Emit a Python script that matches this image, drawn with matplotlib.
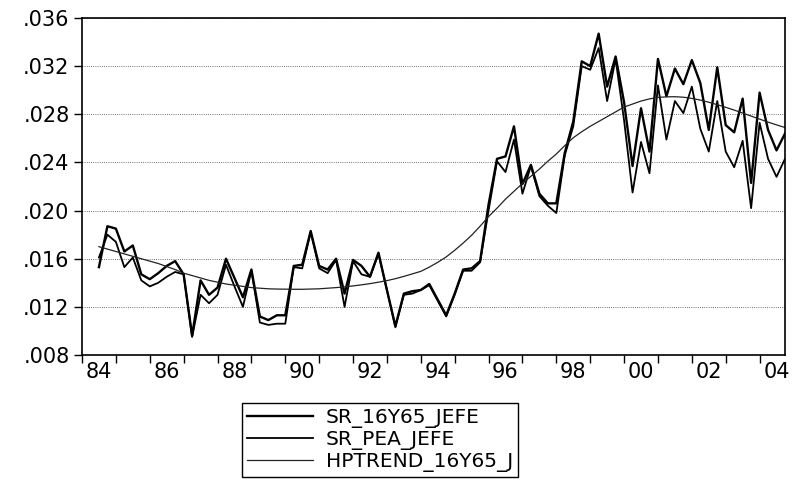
'''
Jefe (head of household) unemployment rates with HP trend, quarterly 1984-2004
'''
import matplotlib
matplotlib.use('Agg')
import matplotlib.pyplot as plt
from matplotlib.ticker import FuncFormatter

import numpy as np
import pandas as pd

# quarterly sample
quarters = pd.period_range('1984Q3', '2004Q4', freq='Q')

sr_16y65_jefe = [
    .0153, .0187, .0185, .0166, .0171, .0147, .0143, .0148, .0154, .0158,
    .0147, .0096, .0142, .0130, .0136, .0160, .0144, .0128, .0151, .0112,
    .0109, .0113, .0113, .0154, .0155, .0183, .0154, .0151, .0160, .0131,
    .0159, .0154, .0145, .0165, .0134, .0104, .0131, .0133, .0134, .0139,
    .0126, .0113, .0131, .0151, .0152, .0158, .0205, .0243, .0245, .0270,
    .0222, .0238, .0214, .0206, .0206, .0248, .0274, .0324, .0320, .0347,
    .0303, .0328, .0290, .0237, .0285, .0249, .0326, .0295, .0318, .0305,
    .0325, .0306, .0267, .0319, .0271, .0265, .0293, .0223, .0298, .0267,
    .0250, .0264]

sr_pea_jefe = [
    .0161, .0180, .0174, .0153, .0161, .0142, .0137, .0140, .0145, .0149,
    .0147, .0095, .0130, .0123, .0130, .0155, .0137, .0120, .0150, .0107,
    .0105, .0106, .0106, .0153, .0152, .0182, .0152, .0148, .0159, .0120,
    .0158, .0147, .0145, .0164, .0134, .0103, .0130, .0131, .0134, .0138,
    .0125, .0112, .0130, .0150, .0150, .0157, .0200, .0241, .0232, .0259,
    .0214, .0237, .0212, .0204, .0198, .0246, .0270, .0320, .0317, .0335,
    .0291, .0326, .0275, .0215, .0257, .0231, .0304, .0259, .0291, .0281,
    .0303, .0268, .0249, .0291, .0249, .0236, .0258, .0202, .0273, .0243,
    .0228, .0243]

hptrend_16y65_j = [
    .01700, .01680, .01660, .01640, .01620, .01600, .01580, .01560, .01535, .01510,
    .01480, .01460, .01440, .01420, .01405, .01390, .01380, .01370, .01360, .01355,
    .01350, .01348, .01347, .01346, .01346, .01348, .01350, .01355, .01360, .01366,
    .01374, .01383, .01393, .01405, .01418, .01434, .01453, .01474, .01495, .01530,
    .01570, .01615, .01670, .01730, .01795, .01870, .01950, .02020, .02095, .02160,
    .02225, .02285, .02345, .02410, .02470, .02540, .02605, .02655, .02700, .02740,
    .02780, .02820, .02860, .02885, .02910, .02928, .02940, .02945, .02946, .02942,
    .02932, .02918, .02900, .02880, .02858, .02835, .02810, .02785, .02760, .02735,
    .02712, .02690]

series_names = ['SR_16Y65_JEFE', 'SR_PEA_JEFE', 'HPTREND_16Y65_J']
year_ticks = list(range(1984, 2005))
label_years = list(range(1984, 2005, 2))
y_ticks = [.008, .012, .016, .020, .024, .028, .032, .036]

# x position of every quarter in years
x = quarters.year + (quarters.quarter - 1) / 4.0

plt.rcParams['font.family'] = ['DejaVu Sans']

fig = plt.figure(figsize=(7.93, 4.8), dpi=100)
ax = fig.add_axes([82 / 793, 1 - 355 / 480, 703 / 793, 337 / 480])

ax.plot(x, sr_16y65_jefe, color='black', lw=1.7, label=series_names[0])
ax.plot(x, sr_pea_jefe, color='black', lw=1.3, label=series_names[1])
ax.plot(x, hptrend_16y65_j, color='#222222', lw=0.9, label=series_names[2])

ax.set_xlim(1984.0, 2004.75)
ax.set_ylim(.008, .036)

# y axis: EViews style labels without leading zero
ax.set_yticks(y_ticks)
ax.yaxis.set_major_formatter(FuncFormatter(lambda v, p: ('%.3f' % v)[1:]))
ax.yaxis.grid(True, linestyle=(0, (1, 1.6)), color='#444444', lw=0.6)
ax.tick_params(axis='y', length=6, width=1, labelsize=15, pad=3)

# x axis: ticks at year starts, labels centred in the year
ax.set_xticks(year_ticks)
ax.set_xticklabels([''] * len(year_ticks))
ax.set_xticks([y + 0.5 for y in label_years], minor=True)
ax.set_xticklabels(['%02d' % (y % 100) for y in label_years], minor=True)
ax.tick_params(axis='x', which='major', length=6, width=1)
ax.tick_params(axis='x', which='minor', length=0, labelsize=15, pad=5)

for sp in ax.spines.values():
    sp.set_linewidth(1.2)

leg = ax.legend(loc='upper left', bbox_to_anchor=(242 / 793, 1 - 403 / 480),
                bbox_transform=fig.transFigure, borderaxespad=0,
                fontsize=14.5, handlelength=3.3, handletextpad=0.6,
                labelspacing=0.1, borderpad=0.25, fancybox=False,
                framealpha=1, edgecolor='black')
leg.get_frame().set_linewidth(1.0)

fig.savefig('out.png', dpi=100)
